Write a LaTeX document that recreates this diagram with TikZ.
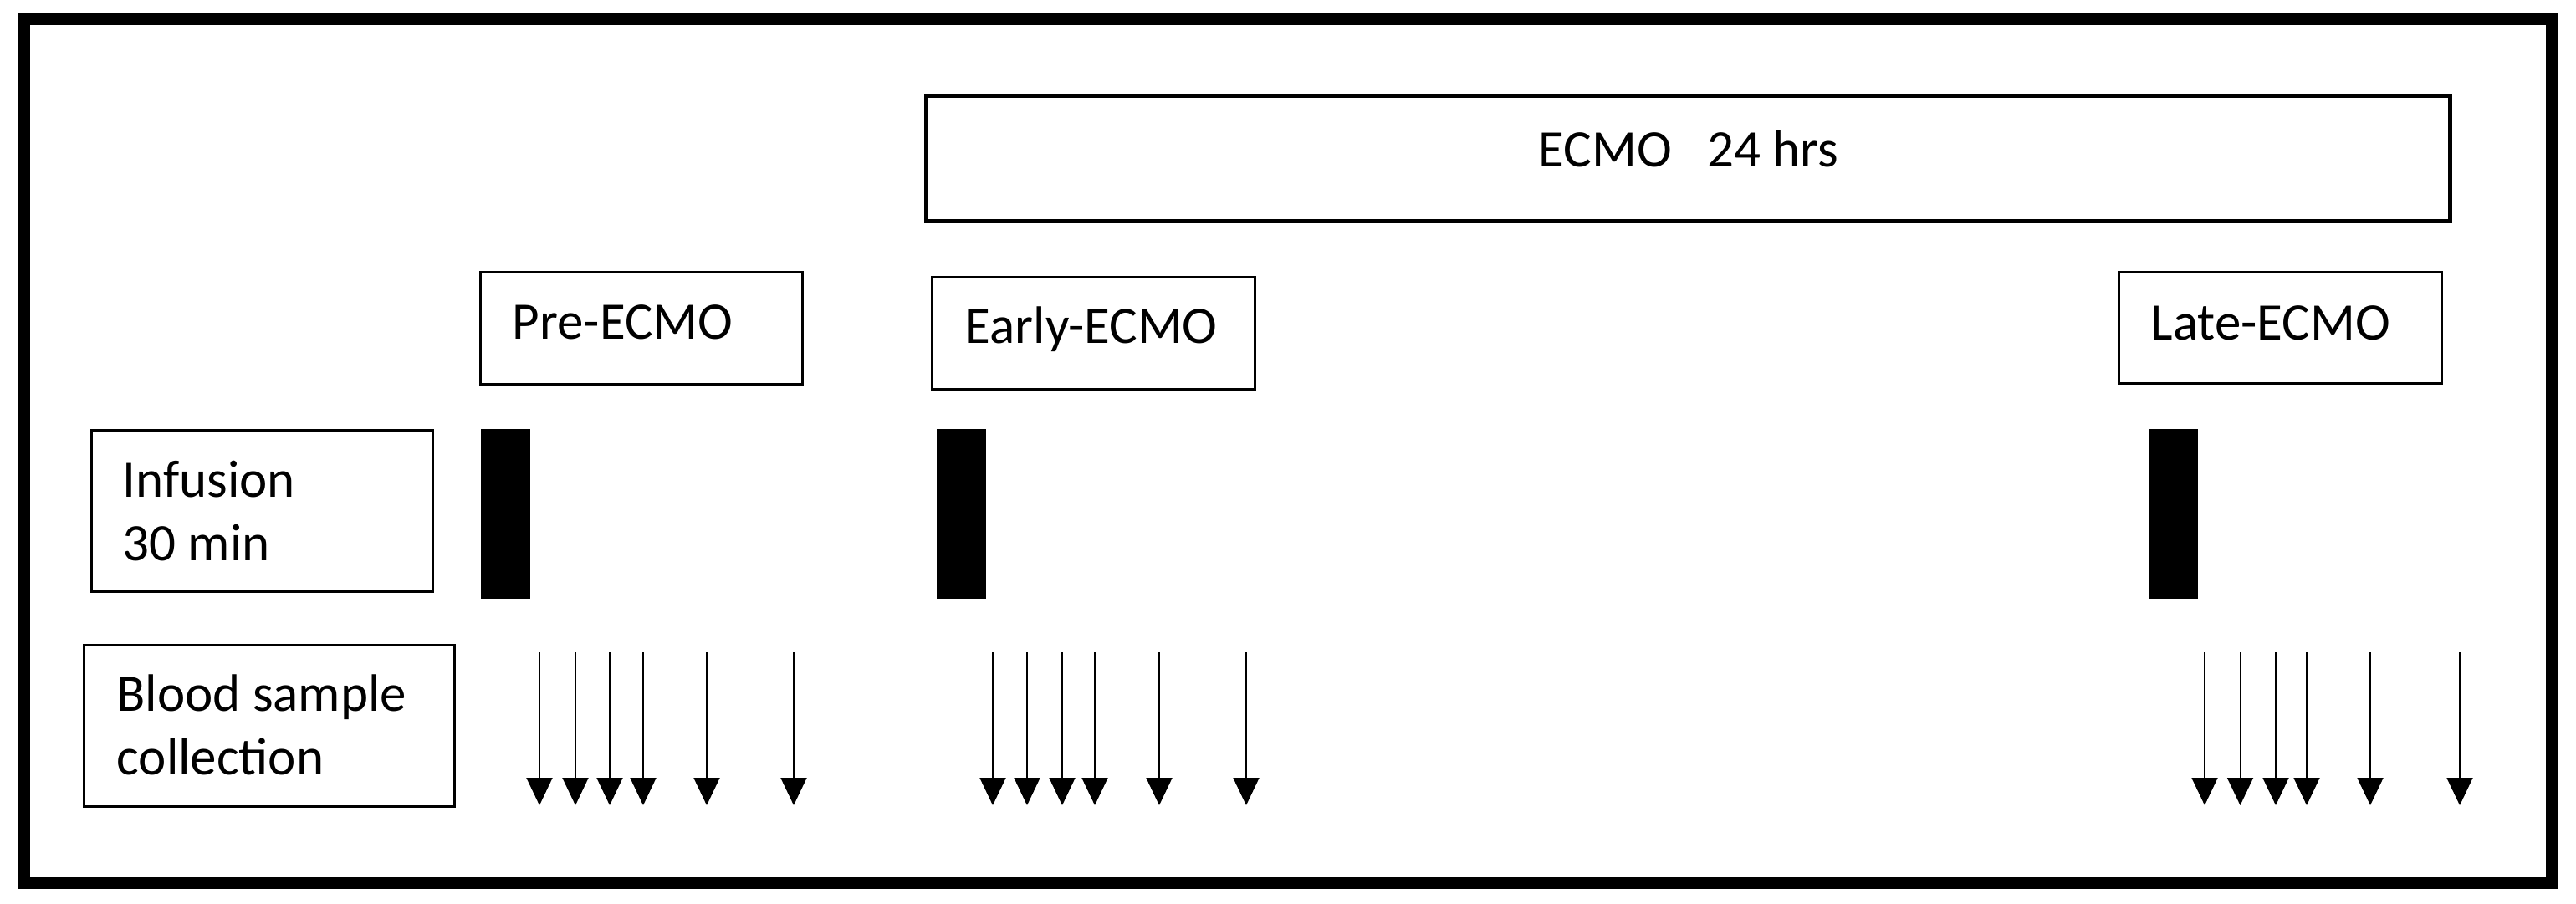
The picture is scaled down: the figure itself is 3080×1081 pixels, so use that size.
\documentclass[tikz,border=0pt]{standalone}
\usepackage{fontspec}
\setmainfont{Carlito}
\usetikzlibrary{arrows.meta}
\begin{document}
\begin{tikzpicture}[x=0.3pt,y=-0.3pt,
  frame/.style={draw=black,line width=4.2pt},
  bigbox/.style={draw=black,line width=1.5pt,inner sep=0pt},
  lbox/.style={draw=black,line width=0.9pt,inner sep=0pt},
  bar/.style={fill=black,draw=none,inner sep=0pt,minimum width=59*0.3pt,minimum height=202.6*0.3pt},
  lbl/.style={anchor=base west,inner sep=0pt,font=\fontsize{18.9}{22}\selectfont},
  arr/.style={line width=0.6pt,-{Triangle[width=9.3pt,length=9.9pt]}}]
\useasboundingbox (0,0) rectangle (3080,1081);
% outer frame
\node[frame,inner sep=0pt,minimum width=3021.5*0.3pt,minimum height=1032*0.3pt] (outer) at (1539.75,539.5) {};
% ECMO box
\node[bigbox,minimum width=1822*0.3pt,minimum height=149.5*0.3pt] (ecmo) at (2018.5,189.75) {};
\node[lbl] (ecmot) at (1839,200) {ECMO~~~24 hrs};
% phase boxes
\node[lbox,minimum width=385*0.3pt,minimum height=134*0.3pt] (pre) at (767,392.5) {};
\node[lbl] (pret) at (612,406) {Pre-ECMO};
\node[lbox,minimum width=386*0.3pt,minimum height=134*0.3pt] (early) at (1307.5,398.5) {};
\node[lbl] (earlyt) at (1153,410.5) {Early-ECMO};
\node[lbox,minimum width=386*0.3pt,minimum height=133*0.3pt] (late) at (2726.5,392.5) {};
\node[lbl] (latet) at (2571,407) {Late-ECMO};
% row labels
\node[lbox,minimum width=408*0.3pt,minimum height=192.5*0.3pt] (inf) at (313.5,611) {};
\node[lbl] (inf1) at (146,594.5) {Infusion};
\node[lbl] (inf2) at (146,670) {30 min};
\node[lbox,minimum width=443*0.3pt,minimum height=193.5*0.3pt] (blood) at (322,868) {};
\node[lbl] (blood1) at (139,850) {Blood sample};
\node[lbl] (blood2) at (139,926) {collection};
% infusion bars
\node[bar] (bar1) at (604.5,614.3) {};
\node[bar] (bar2) at (1149.5,614.3) {};
\node[bar] (bar3) at (2598.5,614.3) {};
% sampling arrows
\foreach \xx [count=\i] in {645,688,729,769,845,949,1187,1228,1270,1309,1386,1490,2636,2678.5,2721,2758,2834,2941}{
  \coordinate (s\i t) at (\xx,780);
  \coordinate (s\i b) at (\xx,963);
  \draw[arr] (s\i t) -- (s\i b);
}
\end{tikzpicture}
\end{document}
